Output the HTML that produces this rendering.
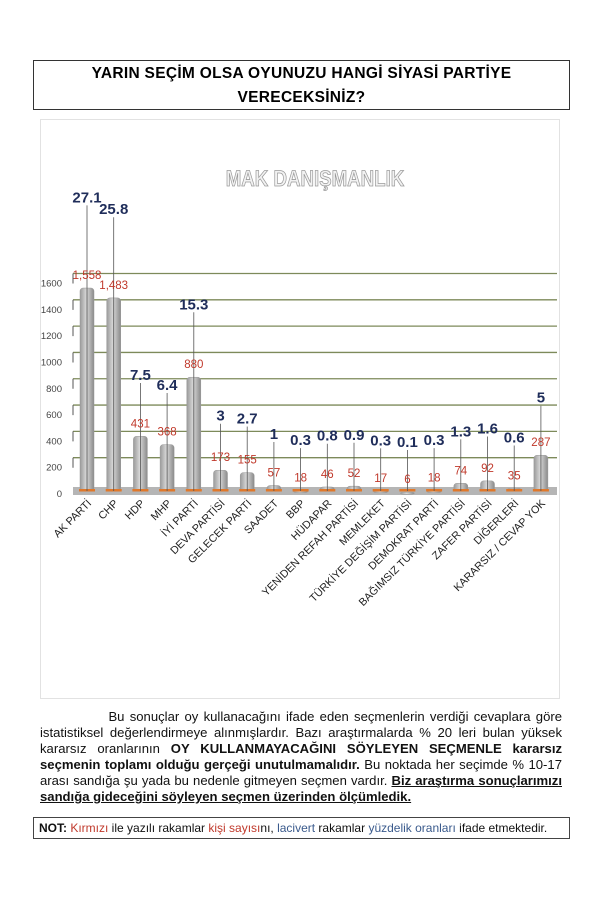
<!DOCTYPE html>
<html><head><meta charset="utf-8">
<style>
body{margin:0;width:600px;height:899px;background:#fff;font-family:"Liberation Sans",sans-serif;position:relative;overflow:hidden}
#title{position:absolute;left:33px;top:60px;width:537px;height:50px;border:1px solid #333;box-sizing:border-box;text-align:center;font-weight:bold;font-size:15.5px;line-height:24px;padding-top:1px;color:#000;letter-spacing:0.3px}
#panel{position:absolute;left:40px;top:119px;width:520px;height:580px;border:1px solid #e2e2e2;box-sizing:border-box}
#chart{position:absolute;left:0;top:0}
#para{position:absolute;left:40px;top:709px;width:522px;font-size:13.1px;line-height:16px;text-align:justify;color:#111}
#note{position:absolute;left:33px;top:817px;width:537px;height:22px;border:1px solid #444;box-sizing:border-box;font-size:12px;line-height:20px;padding-left:5px;color:#111}
.r{color:#c0392b}.b{color:#3a5a8c}
</style></head><body>
<div id="title">YARIN SEÇİM OLSA OYUNUZU HANGİ SİYASİ PARTİYE<br>VERECEKSİNİZ?</div>
<div id="panel"></div>
<svg id="chart" width="600" height="700"></svg>
<div id="para">&nbsp;&nbsp;&nbsp;&nbsp;&nbsp;&nbsp;&nbsp;&nbsp;&nbsp;&nbsp;&nbsp;&nbsp;&nbsp;Bu sonuçlar oy kullanacağını ifade eden seçmenlerin verdiği cevaplara göre istatistiksel değerlendirmeye alınmışlardır. Bazı araştırmalarda % 20 leri bulan yüksek kararsız oranlarının <b>OY KULLANMAYACAĞINI SÖYLEYEN SEÇMENLE kararsız seçmenin toplamı olduğu gerçeği unutulmamalıdır.</b> Bu noktada her seçimde % 10-17 arası sandığa şu yada bu nedenle gitmeyen seçmen vardır. <b><u>Biz araştırma sonuçlarımızı sandığa gideceğini söyleyen seçmen üzerinden ölçümledik.</u></b></div>
<div id="note"><b>NOT:</b> <span class="r">Kırmızı</span> ile yazılı rakamlar <span class="r">kişi sayısı</span>nı, <span class="b">lacivert</span> rakamlar <span class="b">yüzdelik oranları</span> ifade etmektedir.</div>
<script>
const categories=["AK PARTİ","CHP","HDP","MHP","İYİ PARTİ","DEVA PARTİSİ","GELECEK PARTİ","SAADET","BBP","HÜDAPAR","YENİDEN REFAH PARTİSİ","MEMLEKET","TÜRKİYE DEĞİŞİM PARTİSİ","DEMOKRAT PARTİ","BAĞIMSIZ TÜRKİYE PARTİSİ","ZAFER PARTİSİ","DİĞERLERİ","KARARSIZ / CEVAP YOK"];
const counts=[1558,1483,431,368,880,173,155,57,18,46,52,17,6,18,74,92,35,287];
const percents=[27.1,25.8,7.5,6.4,15.3,3,2.7,1,0.3,0.8,0.9,0.3,0.1,0.3,1.3,1.6,0.6,5];
const countLabels=["1,558","1,483","431","368","880","173","155","57","18","46","52","17","6","18","74","92","35","287"];
const yTicks=[0,200,400,600,800,1000,1200,1400,1600];
const NS="http://www.w3.org/2000/svg";
const svg=document.getElementById('chart');
function y(v){return 493-v*210.5/1600;}
function x(i){return 87+i*26.7;}
function mk(t,a,p){const e=document.createElementNS(NS,t);for(const k in a)e.setAttribute(k,a[k]);(p||svg).appendChild(e);return e;}
const defs=mk('defs',{});
const g=mk('linearGradient',{id:'bg',x1:0,x2:1,y1:0,y2:0},defs);
mk('stop',{offset:'0',"stop-color":'#9a9a9a'},g);mk('stop',{offset:'0.45',"stop-color":'#d8d8d8'},g);mk('stop',{offset:'1',"stop-color":'#8a8a8a'},g);
const wm=mk('text',{x:315,y:186,"text-anchor":'middle',"font-size":22,"font-weight":'bold',fill:'#f2f2f2',stroke:'#9a9a9a',"stroke-width":0.8,transform:'translate(315 0) scale(0.85 1) translate(-315 0)'});
wm.textContent='MAK DANIŞMANLIK';


for(const v of yTicks){
  const t=mk('text',{x:62,y:y(v)+4,"text-anchor":'end',"font-size":9.5,fill:'#444'});
  t.textContent=v;
  
  
  if(v>0){
    const l=mk('line',{x1:73,x2:557,y1:y(v)-9,y2:y(v)-9,stroke:'#7d8a5a',"stroke-width":1.3});
    
    
    mk('line',{x1:73,x2:73,y1:y(v)-9,y2:y(v)+1,stroke:'#555',"stroke-width":1});
  }
}
const floor=mk('rect',{x:73,y:487,width:484,height:8,fill:'#b5b5b5'});


categories.forEach((c,i)=>{
  const cx=x(i),top=y(counts[i]);
  const b=mk('rect',{x:cx-7,y:top,width:14,height:Math.max(491-top,2),rx:3,fill:'url(#bg)',stroke:'#999',"stroke-width":0.5});
  
  
  mk('rect',{x:cx-8,y:489,width:16,height:2.5,fill:'#e0782a'});
  const py=top-45-percents[i]*1.5;
  mk('line',{x1:cx,x2:cx,y1:py+3,y2:491,stroke:'#555',"stroke-width":0.8});
  const pt=mk('text',{x:cx,y:py,"text-anchor":'middle',"font-size":15,"font-weight":'bold',fill:'#1f2d5a'});
  pt.textContent=percents[i];
  
  
  const ct=mk('text',{x:cx,y:top-9,"text-anchor":'middle',"font-size":11.5,fill:'#c0392b'});
  ct.textContent=countLabels[i];
  
  
  const xl=mk('text',{x:cx+5,y:504,"text-anchor":'end',"font-size":10.8,fill:'#222',transform:`rotate(-45 ${cx+5} 504)`});
  xl.textContent=c;
  
  
});
</script>
</body></html>
